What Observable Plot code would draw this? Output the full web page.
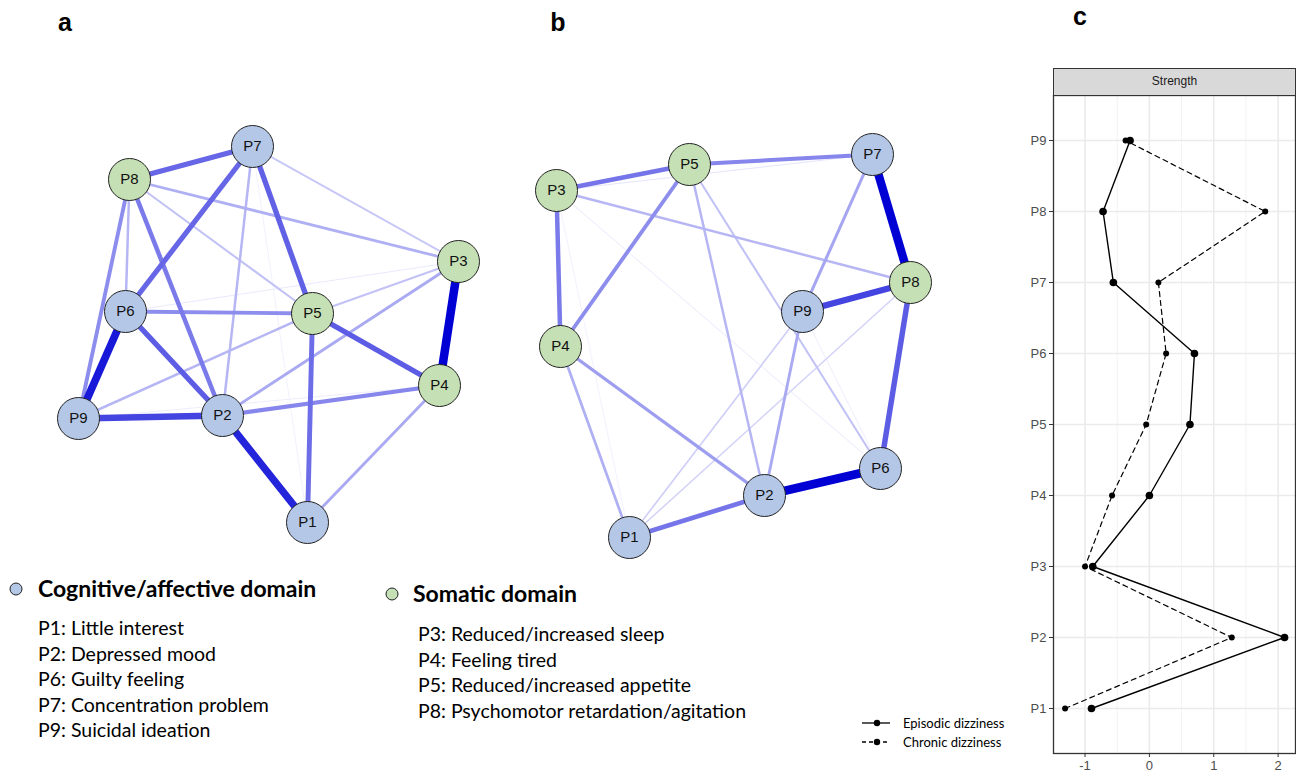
<!DOCTYPE html>
<html><head><meta charset="utf-8">
<script src="https://cdn.jsdelivr.net/npm/d3@7"></script>
<script src="https://cdn.jsdelivr.net/npm/@observablehq/plot@0.6"></script>
<style>
body{margin:0;background:#fff;}
#root{position:relative;width:1296px;height:775px;overflow:hidden;background:#fff;}
.abs{position:absolute;}
</style></head><body><div id="root"></div>
<script>
// ---- Network nodes ----
const nodeIds   = ["P1","P2","P3","P4","P5","P6","P7","P8","P9"];
const nodeGroup = ["cog","cog","som","som","som","cog","cog","som","cog"];
// layout coordinates (panel a and panel b)
const layoutA_x = [307,222,458,439,312,125,252,129,78];
const layoutA_y = [522,415,261,385,313,311,146,179,418];
const layoutB_x = [629,764,556,560,689,880,872,910,802];
const layoutB_y = [537,495,190,346,164,468,154,282,311];

// ---- Edges panel a ----
const edgeA_from = ["P3","P6","P2","P9","P6","P5","P7","P7","P7","P5","P8","P6","P2","P8","P2","P4","P8","P8","P7","P9","P5","P8","P7","P6","P7","P9"];
const edgeA_to   = ["P4","P9","P1","P2","P2","P4","P5","P8","P6","P1","P2","P5","P4","P9","P3","P1","P3","P6","P2","P5","P3","P5","P3","P3","P1","P4"];
const edgeA_w    = [1.0,0.9,0.85,0.72,0.62,0.62,0.6,0.58,0.58,0.55,0.5,0.42,0.45,0.42,0.3,0.3,0.28,0.25,0.25,0.25,0.2,0.2,0.18,0.05,0.03,0.04];

// ---- Edges panel b ----
const edgeB_from = ["P7","P2","P9","P8","P1","P3","P5","P3","P5","P4","P7","P9","P4","P5","P3","P5","P9","P8","P9","P3","P3","P3"];
const edgeB_to   = ["P8","P6","P8","P6","P2","P5","P7","P4","P4","P2","P9","P2","P1","P2","P8","P6","P1","P1","P6","P6","P7","P1"];
const edgeB_w    = [1.0,1.0,0.72,0.62,0.52,0.52,0.45,0.5,0.42,0.35,0.32,0.3,0.28,0.25,0.25,0.2,0.15,0.13,0.04,0.05,0.06,0.03];

// ---- Strength (panel c) ----
const strengthNodes = ["P1","P2","P3","P4","P5","P6","P7","P8","P9"];
const episodic = [-0.90, 2.10, -0.88, 0.00, 0.63, 0.70, -0.56, -0.72, -0.30];
const chronic  = [-1.31, 1.28, -1.00, -0.58, -0.05, 0.26, 0.14, 1.80, -0.37];
const xTicks = [-1, 0, 1, 2];
const xMinor = [-0.5, 0.5, 1.5];

// ---- Legend texts ----
const cogTitle = "Cognitive/affective domain";
const cogItems = ["P1: Little interest","P2: Depressed mood","P6: Guilty feeling","P7: Concentration problem","P9: Suicidal ideation"];
const somTitle = "Somatic domain";
const somItems = ["P3: Reduced/increased sleep","P4: Feeling tired","P5: Reduced/increased appetite","P8: Psychomotor retardation/agitation"];
const seriesNames = ["Episodic dizziness","Chronic dizziness"];
const panelLetters = ["a","b","c"];

const COG = "#b4c7e7", SOM = "#c5e0b4";

// build tables
function buildNodes(lx, ly, panel) {
  return nodeIds.map((id, i) => ({id, panel, group: nodeGroup[i], x: lx[i], y: ly[i]}));
}
const nodesA = buildNodes(layoutA_x, layoutA_y, "a");
const nodesB = buildNodes(layoutB_x, layoutB_y, "b");
function buildEdges(from, to, w, nodes) {
  const m = new Map(nodes.map(n => [n.id, n]));
  return from.map((f, i) => ({from: f, to: to[i], w: w[i],
    x1: m.get(f).x, y1: m.get(f).y, x2: m.get(to[i]).x, y2: m.get(to[i]).y}))
    .sort((a, b) => a.w - b.w);
}
const edges = [...buildEdges(edgeA_from, edgeA_to, edgeA_w, nodesA), ...buildEdges(edgeB_from, edgeB_to, edgeB_w, nodesB)];
const allNodes = [...nodesA, ...nodesB];

const root = document.getElementById("root");

// ---- networks plot ----
const net = Plot.plot({
  width: 1000, height: 580, margin: 0,
  x: {domain: [0, 1000], range: [0, 1000], axis: null},
  y: {domain: [0, 580], range: [0, 580], axis: null},
  color: {type: "linear", domain: [0, 1], range: ["#f3f3fe", "#0000d5"]},
  style: {fontFamily: "'Liberation Sans', Arial, sans-serif", background: "transparent"},
  marks: [
    Plot.link(edges, {x1: "x1", y1: "y1", x2: "x2", y2: "y2", stroke: "w", strokeWidth: d => 0.5 + 8 * d.w}),
    Plot.dot(allNodes.filter(d => d.group === "cog"), {x: "x", y: "y", r: 21, fill: COG, stroke: "#222", strokeWidth: 1}),
    Plot.dot(allNodes.filter(d => d.group === "som"), {x: "x", y: "y", r: 21, fill: SOM, stroke: "#222", strokeWidth: 1}),
    Plot.text(allNodes, {x: "x", y: "y", text: "id", fontSize: 15, fill: "#111"})
  ]
});
net.classList.add("abs");
net.style.left = "0px"; net.style.top = "0px";
root.appendChild(net);

// ---- strength plot ----
const strengthData = [
  ...strengthNodes.map((n, i) => ({node: n, value: episodic[i], series: seriesNames[0]})),
  ...strengthNodes.map((n, i) => ({node: n, value: chronic[i], series: seriesNames[1]}))
];
const yDomain = strengthNodes.slice().reverse();
const cPlot = Plot.plot({
  width: 296, height: 680, marginLeft: 53, marginRight: 1, marginTop: 0, marginBottom: 22,
  x: {domain: [-1.49, 2.27], label: null},
  y: {type: "point", domain: yDomain, padding: 0.6, label: null},
  style: {fontFamily: "'Liberation Sans', Arial, sans-serif", fontSize: "13px", background: "transparent"},
  marks: [
    Plot.ruleX(xMinor, {stroke: "#f2f2f2", strokeWidth: 1}),
    Plot.ruleX(xTicks, {stroke: "#ebebeb", strokeWidth: 1.6}),
    Plot.ruleY(yDomain, {stroke: "#ebebeb", strokeWidth: 1.6}),
    Plot.line(strengthData.filter(d => d.series === seriesNames[1]), {x: "value", y: "node", stroke: "#000", strokeWidth: 1.2, strokeDasharray: "5,4"}),
    Plot.line(strengthData.filter(d => d.series === seriesNames[0]), {x: "value", y: "node", stroke: "#000", strokeWidth: 1.4}),
    Plot.dot(strengthData.filter(d => d.series === seriesNames[1]), {x: "value", y: "node", r: 3, fill: "#000"}),
    Plot.dot(strengthData.filter(d => d.series === seriesNames[0]), {x: "value", y: "node", r: 3.8, fill: "#000"}),
    Plot.frame({stroke: "#333", strokeWidth: 1.3}),
    Plot.axisX(xTicks, {tickSize: 4, tickPadding: 3, stroke: "#333", fill: "#4d4d4d", fontSize: 13, tickFormat: d => String(d), label: null}),
    Plot.axisY({tickSize: 4, tickPadding: 3, stroke: "#333", fill: "#4d4d4d", fontSize: 13, label: null})
  ]
});
cPlot.classList.add("abs");
cPlot.style.left = "1000px"; cPlot.style.top = "95px";
root.appendChild(cPlot);

// strip header
const strip = document.createElement("div");
strip.className = "abs";
Object.assign(strip.style, {left: "1053px", top: "68px", width: "243px", height: "28px", boxSizing: "border-box",
  background: "#d9d9d9", border: "1.3px solid #333", font: "12px 'Liberation Sans', Arial, sans-serif",
  color: "#1a1a1a", textAlign: "center", lineHeight: "25px"});
strip.textContent = "Strength";
root.appendChild(strip);

// ---- text overlay (legends, panel letters) ----
const ns = "http://www.w3.org/2000/svg";
const ov = document.createElementNS(ns, "svg");
ov.setAttribute("width", 1296); ov.setAttribute("height", 775);
ov.setAttribute("class", "abs"); ov.style.left = "0px"; ov.style.top = "0px"; ov.style.pointerEvents = "none";
root.appendChild(ov);
function el(tag, attrs, text) {
  const e = document.createElementNS(ns, tag);
  for (const k in attrs) e.setAttribute(k, attrs[k]);
  if (text != null) e.textContent = text;
  ov.appendChild(e);
  return e;
}
const letterPos = [[65, 31], [558, 31], [1080, 25]];
panelLetters.forEach((l, i) => el("text", {x: letterPos[i][0], y: letterPos[i][1], "text-anchor": "middle",
  "font-family": "'Liberation Sans Narrow', 'Liberation Sans', Arial, sans-serif", "font-weight": "bold", "font-size": 25, fill: "#000"}, l));

const legFont = "Lato, 'Open Sans', sans-serif";
el("circle", {cx: 16, cy: 589, r: 6, fill: COG, stroke: "#222", "stroke-width": 1});
el("text", {x: 38, y: 597, "font-family": legFont, "font-weight": "bold", "font-size": 23, fill: "#000"}, cogTitle);
cogItems.forEach((t, i) => el("text", {x: 38, y: 635 + i * 25.6, "font-family": legFont, "font-size": 19.5, fill: "#000"}, t));
el("circle", {cx: 392, cy: 594, r: 6, fill: SOM, stroke: "#222", "stroke-width": 1});
el("text", {x: 413, y: 602, "font-family": legFont, "font-weight": "bold", "font-size": 23, fill: "#000"}, somTitle);
somItems.forEach((t, i) => el("text", {x: 418, y: 641 + i * 25.5, "font-family": legFont, "font-size": 19.5, fill: "#000"}, t));

// series legend
[[723, null], [742, "4,3"]].forEach(([y, dash], i) => {
  const a = {x1: 862, x2: 890, y1: y, y2: y, stroke: "#000", "stroke-width": 1.3};
  if (dash) a["stroke-dasharray"] = dash;
  el("line", a);
  el("circle", {cx: 877, cy: y, r: 3.2, fill: "#000"});
  el("text", {x: 903, y: y + 4.5, "font-family": legFont, "font-size": 13, fill: "#000"}, seriesNames[i]);
});
</script></body></html>
